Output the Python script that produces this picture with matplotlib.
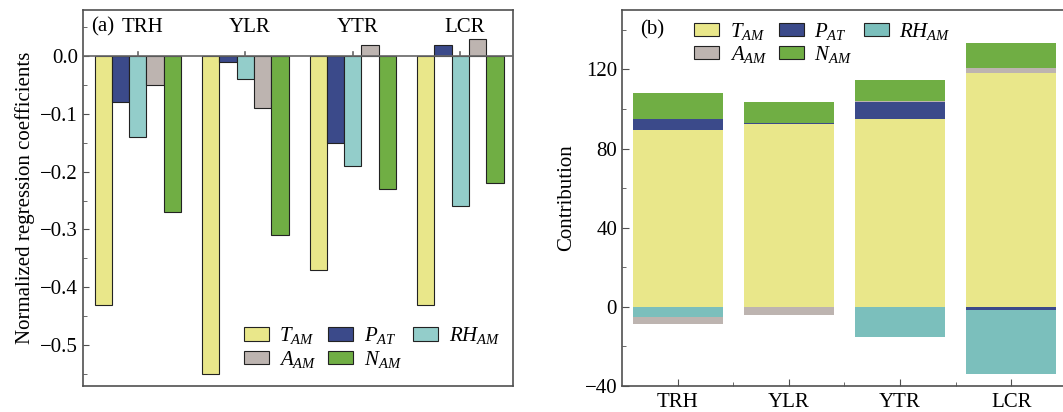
import numpy as np
import matplotlib
matplotlib.use('Agg')
import matplotlib.pyplot as plt
from matplotlib.ticker import MultipleLocator

plt.rcParams['font.family'] = ['Liberation Serif', 'DejaVu Serif']
plt.rcParams['mathtext.fontset'] = 'custom'
plt.rcParams['mathtext.rm'] = 'Liberation Serif'
plt.rcParams['mathtext.it'] = 'Liberation Serif:italic'
plt.rcParams['font.size'] = 15

regions = ['TRH', 'YLR', 'YTR', 'LCR']
factors = [r'$T_{AM}$', r'$P_{AT}$', r'$RH_{AM}$', r'$A_{AM}$', r'$N_{AM}$']
colors = ['#E9E78A', '#3B4A8A', '#93CDCA', '#BDB4B0', '#70AE44']
colors_b = ['#E9E78A', '#3B4A8A', '#7BBFBC', '#BDB4B0', '#70AE44']

# (a) normalized regression coefficients, one list per factor
coef_T = [-0.43, -0.55, -0.37, -0.43]
coef_P = [-0.08, -0.01, -0.15, 0.02]
coef_RH = [-0.14, -0.04, -0.19, -0.26]
coef_A = [-0.05, -0.09, 0.02, 0.03]
coef_N = [-0.27, -0.31, -0.23, -0.22]

# (b) contributions
contrib_T = [89.6, 92.6, 94.8, 118.3]
contrib_P = [5.4, 0.5, 8.8, -1.5]
contrib_RH = [-4.9, 0.0, -15.1, -32.3]
contrib_A = [-3.9, -4.2, 0.5, 2.5]
contrib_N = [13.2, 10.5, 10.3, 12.4]

spine_c = '#505050'
# legend laid out row by row: T P RH / A N
leg_order = [0, 3, 1, 4, 2]


def row_legend(ax, **kw):
    h, l = ax.get_legend_handles_labels()
    return ax.legend([h[i] for i in leg_order], [l[i] for i in leg_order],
                     ncol=3, frameon=False, handlelength=1.2, handleheight=0.6,
                     handletextpad=0.5, columnspacing=0.55, labelspacing=0.1,
                     borderpad=0.2, **kw)


fig = plt.figure(figsize=(10.63, 4.12), dpi=100)
ax1 = fig.add_axes([0.0781, 0.0631, 0.4045, 0.9126])
ax2 = fig.add_axes([0.5851, 0.0631, 0.4186, 0.9126])

# ---- (a) grouped bars ----
x = np.arange(len(regions))
w = 0.161
coefs = [coef_T, coef_P, coef_RH, coef_A, coef_N]
for i, (vals, c, lab) in enumerate(zip(coefs, colors, factors)):
    ax1.bar(x + (i - 2) * w, vals, w, color=c, edgecolor='#222222',
            linewidth=0.8, label=lab, zorder=2)
ax1.axhline(0, color='#666666', lw=1.2, zorder=3)
ax1.set_xlim(-0.51, 3.49)
ax1.set_ylim(-0.571, 0.08)
ax1.set_xticks([])
ax1.yaxis.set_major_locator(MultipleLocator(0.1))
ax1.yaxis.set_minor_locator(MultipleLocator(0.05))
ax1.yaxis.set_major_formatter(lambda v, p: f'{v:.1f}'.replace('-', '\u2212') if abs(v) > 1e-9 else '0.0')
ax1.tick_params(axis='y', which='both', direction='in', color=spine_c)
ax1.tick_params(axis='y', which='major', length=4)
ax1.tick_params(axis='y', which='minor', length=3)
for xi, name in zip(x, regions):
    ax1.plot([xi, xi], [0, 0.008], color='#666666', lw=1.2, zorder=3)
    ax1.text(xi + 0.04, 0.05, name, ha='center', va='center')
ax1.text(0.02, 0.955, '(a)', transform=ax1.transAxes, ha='left', va='center')
ax1.set_ylabel('Normalized regression coefficients', labelpad=4)
row_legend(ax1, loc='lower left', bbox_to_anchor=(0.34, 0.005))

# ---- (b) stacked contributions ----
contribs = [contrib_T, contrib_P, contrib_RH, contrib_A, contrib_N]
pos_base = np.zeros(len(regions))
neg_base = np.zeros(len(regions))
for vals, c, lab in zip(contribs, colors_b, factors):
    v = np.array(vals)
    bottom = np.where(v >= 0, pos_base, neg_base)
    ax2.bar(x, v, 0.81, bottom=bottom, color=c, edgecolor='none',
            label=lab, zorder=2)
    pos_base = pos_base + np.where(v >= 0, v, 0)
    neg_base = neg_base + np.where(v < 0, v, 0)
ax2.set_xlim(-0.5, 3.5)
ax2.set_ylim(-40, 150)
ax2.set_xticks(x)
ax2.set_xticklabels(regions)
ax2.set_xticks(x[:-1] + 0.5, minor=True)
ax2.yaxis.set_major_locator(MultipleLocator(40))
ax2.yaxis.set_minor_locator(MultipleLocator(20))
ax2.tick_params(which='both', direction='in', color=spine_c)
ax2.tick_params(which='major', length=5)
ax2.tick_params(which='minor', length=3)
ax2.tick_params(axis='x', pad=5)
ax2.set_ylabel('Contribution', labelpad=6)
ax2.text(0.04, 0.948, '(b)', transform=ax2.transAxes, ha='left', va='center')
leg = row_legend(ax2, loc='upper left', bbox_to_anchor=(0.13, 1.01))
for leg_patch in leg.get_patches():
    leg_patch.set_edgecolor('#222222')
    leg_patch.set_linewidth(0.8)

for ax in (ax1, ax2):
    for s in ax.spines.values():
        s.set_color(spine_c)
        s.set_linewidth(1.2)

fig.savefig('out.png', dpi=100)
